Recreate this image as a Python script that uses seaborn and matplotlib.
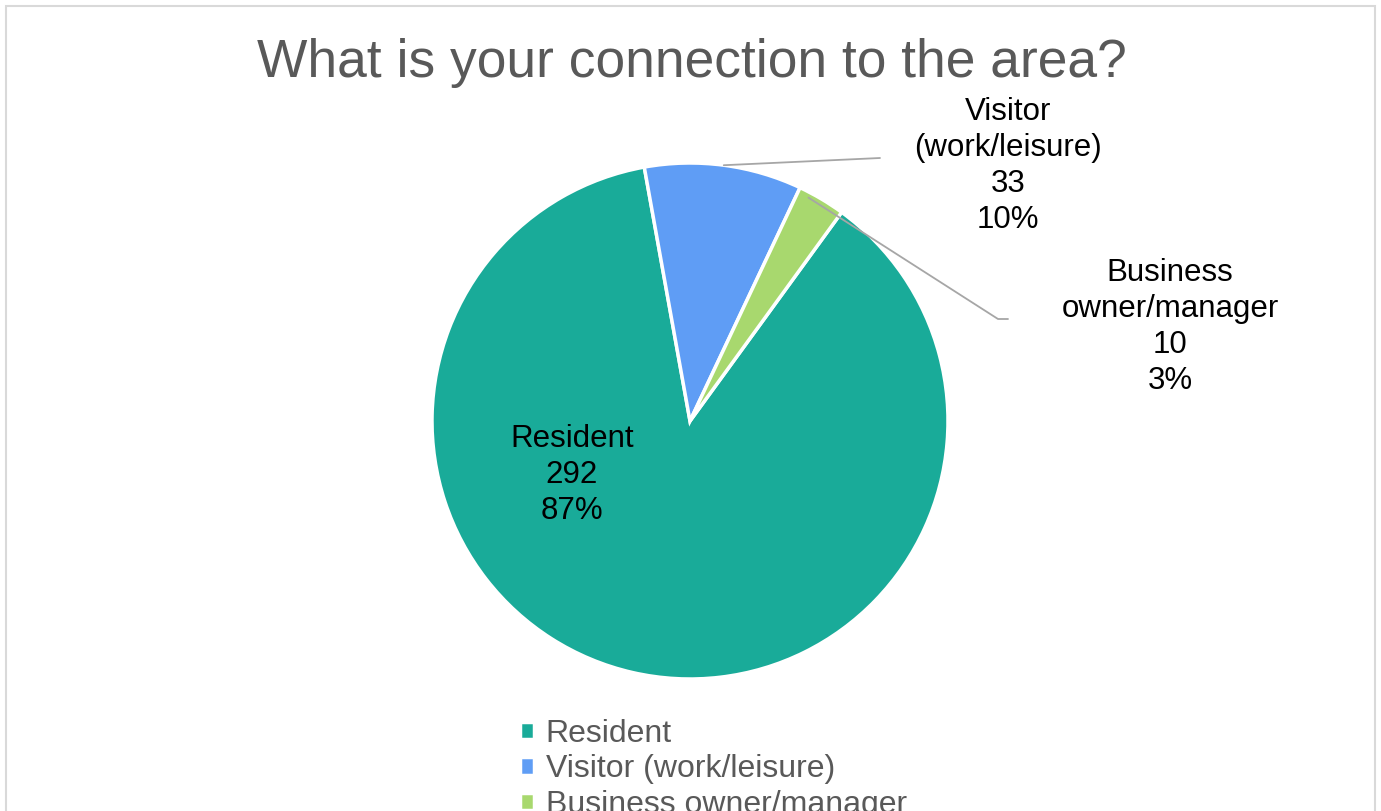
import numpy as np
import matplotlib
matplotlib.use('Agg')
import matplotlib.pyplot as plt
from matplotlib.patches import Rectangle
import seaborn as sns

# ── datos ────────────────────────────────────────────────────────────────
categorias = ['Resident', 'Visitor (work/leisure)', 'Business owner/manager']
etiquetas = ['Resident', 'Visitor\n(work/leisure)', 'Business\nowner/manager']
respuestas = [292, 33, 10]
titulo = 'What is your connection to the area?'

sns.set_theme(style='white')
plt.rcParams['font.family'] = ['Liberation Sans', 'DejaVu Sans']

colores = sns.color_palette(['#19AB99', '#5F9DF5', '#A8D86E'])
GRIS_TXT = '#595959'
GRIS_LINEA = '#A6A6A6'

W, H = 1381, 811
fig = plt.figure(figsize=(W / 100, H / 100), dpi=100)
fig.patch.set_facecolor('white')
ax = fig.add_axes([0, 0, 1, 1])

# pie: centro y radio en coordenadas de pixel (y hacia arriba)
cx, cy, R = 690, 390, 258
wedges, _ = ax.pie(respuestas, colors=colores, startangle=54, counterclock=False,
                   center=(cx, cy), radius=R,
                   wedgeprops=dict(edgecolor='white', linewidth=2.5))
ax.set_xlim(0, W)
ax.set_ylim(0, H)
ax.set_aspect('auto')
ax.axis('off')

total = sum(respuestas)
textos = [f'{e}\n{v}\n{v / total:.0%}' for e, v in zip(etiquetas, respuestas)]

# posiciones de etiquetas (layout)
pos = [(572, 336), (1008, 645), (1170, 484)]
for t, (x, y) in zip(textos, pos):
    ax.text(x, y, t, ha='center', va='center', fontsize=22.5, color='black',
            linespacing=1.27)

# líneas guía desde el borde del sector
def borde(w, frac=0.5, r=1.0):
    ang = np.deg2rad(w.theta1 + frac * (w.theta2 - w.theta1))
    return cx + r * R * np.cos(ang), cy + r * R * np.sin(ang)

x0, y0 = borde(wedges[1])
ax.plot([x0, 880], [y0, 653], color=GRIS_LINEA, lw=1.3)
x0, y0 = borde(wedges[2], 0.75, 0.98)
ax.plot([x0, 998, 1008], [y0, 492, 492], color=GRIS_LINEA, lw=1.3)

# título
ax.text(692, 748, titulo, ha='center', va='center', fontsize=38.4, color=GRIS_TXT)

# leyenda
leg = ax.legend(wedges, categorias, loc='upper left', bbox_to_anchor=(520, 92),
                bbox_transform=ax.transData, frameon=False, fontsize=23,
                handlelength=0.45, handleheight=0.45, handletextpad=0.35,
                labelspacing=0.17, borderpad=0, borderaxespad=0)
for txt in leg.get_texts():
    txt.set_color(GRIS_TXT)

# marco del gráfico
fig.patches.append(Rectangle((6 / W, -0.1), (1375 - 6) / W, (H - 6) / H + 0.1,
                             transform=fig.transFigure, fill=False,
                             edgecolor='#D9D9D9', linewidth=1.5))

fig.savefig('out.png', dpi=100, facecolor='white')
